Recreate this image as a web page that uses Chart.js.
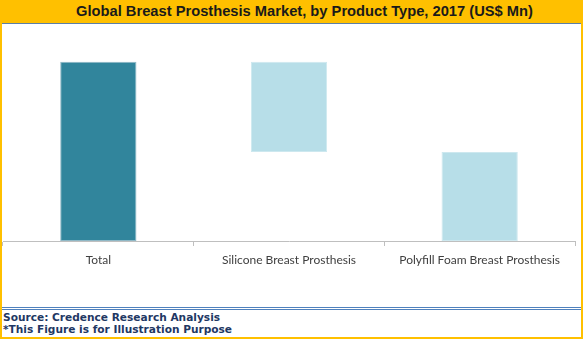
<!DOCTYPE html>
<html>
<head>
<meta charset="utf-8">
<script src="https://cdn.jsdelivr.net/npm/chart.js@4.4.0/dist/chart.umd.min.js"></script>
<style>
  html, body { margin: 0; padding: 0; background: #ffffff; }
  #wrap { position: relative; width: 583px; height: 339px; overflow: hidden; background: #ffffff; }
  #banner { position: absolute; left: 0; top: 0; width: 583px; height: 23px; background: #FFC000; }
  #bannerLine { position: absolute; left: 2px; top: 23px; width: 579px; height: 1px; background: #5B7FA6; }
  #title { position: absolute; left: 0; top: 0; width: 583px; height: 23px; line-height: 23px;
           text-align: center; padding-left: 26px; box-sizing: border-box;
           font-family: "Liberation Sans", Arial, sans-serif; font-weight: bold; font-size: 14.7px; color: #1a1a1a; }
  .bl { position: absolute; top: 0; width: 2px; height: 339px; background: #FFC000; }
  #bb { position: absolute; left: 0; top: 337px; width: 583px; height: 2px; background: #FFC000; }
  .fl { position: absolute; left: 2px; width: 579px; height: 1px; background: #4F81BD; }
  #foot { position: absolute; left: 3px; top: 311px; font-family: "DejaVu Sans", Verdana, sans-serif;
          font-weight: bold; font-size: 10.6px; line-height: 12px; color: #1F3864; }
  #cv { position: absolute; left: 0; top: 24px; width: 583px; height: 283px; }
</style>
</head>
<body>
<div id="wrap">
  <div id="banner"></div>
  <div id="title">Global Breast Prosthesis Market, by Product Type, 2017 (US$ Mn)</div>
  <div id="bannerLine"></div>
  <div id="cv"><canvas id="c" width="583" height="283"></canvas></div>
  <div class="fl" style="top:307px"></div>
  <div class="fl" style="top:309px"></div>
  <div id="foot">Source: Credence Research Analysis<br>*This Figure is for Illustration Purpose</div>
  <div class="bl" style="left:0"></div>
  <div class="bl" style="left:581px"></div>
  <div id="bb"></div>
</div>
<script>
const categories = ["Total", "Silicone Breast Prosthesis", "Polyfill Foam Breast Prosthesis"];
const barStart = [0, 49.7, 0];
const barEnd = [100, 100, 49.7];
const barColors = ["#31859C", "#B7DEE8", "#B7DEE8"];
const barBorders = ["#8FB8C6", "#CDE8EF", "#CDE8EF"];

const floating = categories.map((c, i) => [barStart[i], barEnd[i]]);

new Chart(document.getElementById("c"), {
  type: "bar",
  data: {
    labels: categories,
    datasets: [{
      data: floating,
      backgroundColor: barColors,
      borderColor: barBorders,
      borderWidth: 1,
      borderSkipped: false,
      barPercentage: 0.4,
      categoryPercentage: 1.0
    }]
  },
  options: {
    responsive: false,
    animation: false,
    layout: { padding: { left: 3, right: 8, top: 2, bottom: 0 } },
    plugins: { legend: { display: false }, tooltip: { enabled: false } },
    scales: {
      x: {
        afterFit: (s) => { s.height = 66; },
        border: { display: true, color: "#BFBFBF", width: 1 },
        grid: { display: true, drawOnChartArea: false, drawTicks: true, tickLength: 5, color: "#BFBFBF", offset: true },
        ticks: { color: "#404040", padding: 7, maxRotation: 0, autoSkip: false,
                 font: { family: "Lato", size: 12 } }
      },
      y: {
        display: false,
        min: 0,
        max: 120
      }
    }
  }
});
</script>
</body>
</html>
